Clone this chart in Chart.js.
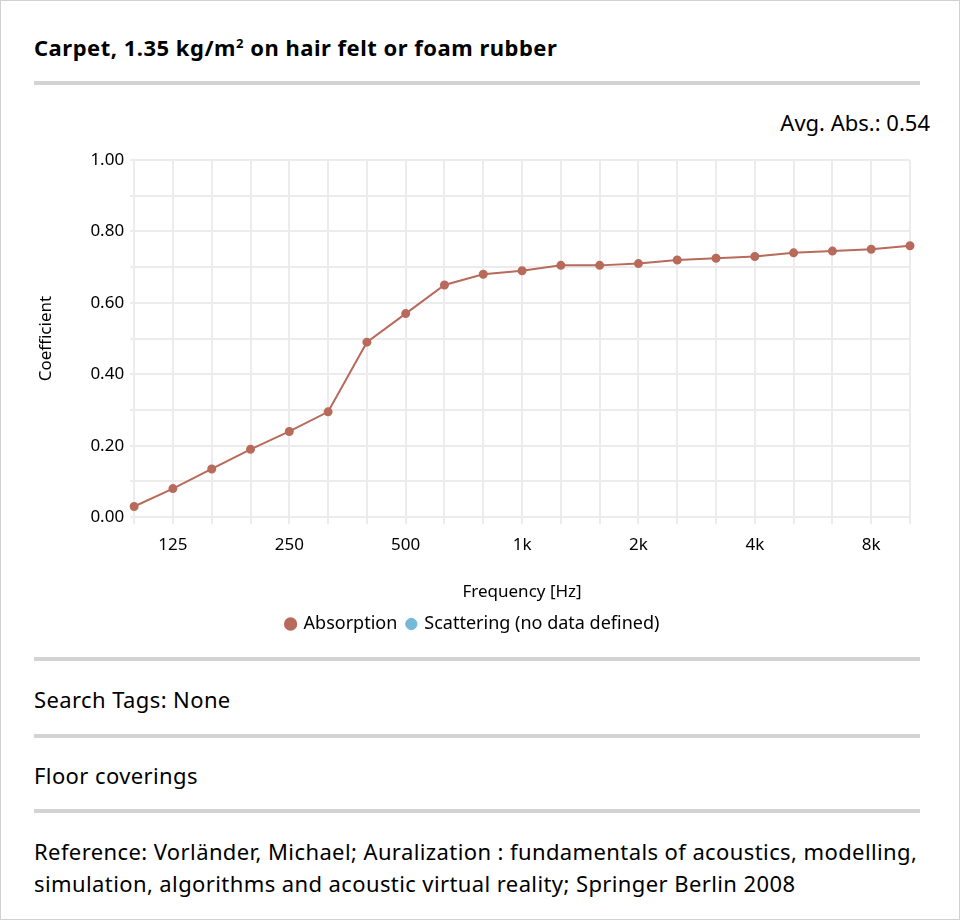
<!DOCTYPE html>
<html>
<head>
<meta charset="utf-8">
<script src="https://cdn.jsdelivr.net/npm/chart.js@4"></script>
<style>
  html, body { margin: 0; padding: 0; background: #fff; }
  body { width: 960px; height: 920px; position: relative; font-family: "Noto Sans", sans-serif; color: #000; }
  .frame { position: absolute; left: 0; top: 0; width: 958px; height: 918px; border: 1px solid #d0d0d0; }
  .title { position: absolute; left: 34px; top: 32px; font-size: 22px; font-weight: bold; letter-spacing: 0.5px; }
  .rule { position: absolute; left: 34px; width: 886px; height: 4px; background: #d3d3d3; }
  .avg { position: absolute; right: 30px; top: 107px; font-size: 22px; }
  .txt { position: absolute; left: 34px; font-size: 22px; line-height: 32px; letter-spacing: 0.4px; }
  #wrap { position: absolute; left: 30px; top: 140px; width: 910px; height: 505px; }
</style>
</head>
<body>
<div class="frame"></div>
<div class="title">Carpet, 1.35 kg/m<sup style="font-size:13px">2</sup> on hair felt or foam rubber</div>
<div class="rule" style="top:81px"></div>
<div class="avg">Avg. Abs.: 0.54</div>
<div id="wrap"><canvas id="chart"></canvas></div>
<div class="rule" style="top:657px"></div>
<div class="txt" style="top:683px">Search Tags: None</div>
<div class="rule" style="top:734px"></div>
<div class="txt" style="top:759px">Floor coverings</div>
<div class="rule" style="top:809px"></div>
<div class="txt" style="top:835px">Reference: Vorländer, Michael; Auralization : fundamentals of acoustics, modelling,<br>simulation, algorithms and acoustic virtual reality; Springer Berlin 2008</div>
<script>
const frequencies = ['100', '125', '160', '200', '250', '315', '400', '500', '630', '800', '1k',
  '1.25k', '1.6k', '2k', '2.5k', '3.15k', '4k', '5k', '6.3k', '8k', '10k'];
const shownLabels = ['125', '250', '500', '1k', '2k', '4k', '8k'];
const absorption = [0.03, 0.08, 0.135, 0.19, 0.24, 0.295, 0.49, 0.57, 0.65, 0.68, 0.69,
  0.705, 0.705, 0.71, 0.72, 0.725, 0.73, 0.74, 0.745, 0.75, 0.76];
const scattering = [];

const gridColor = '#ececec';
const ctx = document.getElementById('chart').getContext('2d');
new Chart(ctx, {
  type: 'line',
  data: {
    labels: frequencies,
    datasets: [{
      label: 'Absorption',
      data: absorption,
      borderColor: '#b86a5b',
      backgroundColor: '#b86a5b',
      borderWidth: 2,
      pointRadius: 3.5,
      pointHoverRadius: 4.5,
      tension: 0
    }, {
      label: 'Scattering (no data defined)',
      data: scattering,
      borderColor: '#74b9d6',
      backgroundColor: '#74b9d6'
    }]
  },
  options: {
    responsive: true,
    maintainAspectRatio: false,
    animation: false,
    layout: { padding: { left: 6, right: 30, top: 20, bottom: 2 } },
    plugins: {
      legend: {
        position: 'bottom',
        labels: {
          usePointStyle: true,
          pointStyle: 'circle',
          boxWidth: 8,
          boxHeight: 8,
          color: '#000',
          font: { family: 'Noto Sans', size: 18 },
          padding: 10
        }
      },
      tooltip: { enabled: false }
    },
    scales: {
      x: {
        grid: { color: gridColor, lineWidth: 2, tickLength: 7 },
        border: { display: false },
        ticks: {
          color: '#000',
          font: { family: 'Noto Sans', size: 17 },
          autoSkip: false,
          maxRotation: 0,
          padding: 11,
          callback: function(value) {
            const lbl = this.getLabelForValue(value);
            return shownLabels.includes(lbl) ? lbl : '';
          }
        },
        title: {
          display: true,
          text: 'Frequency [Hz]',
          color: '#000',
          font: { family: 'Noto Sans', size: 17 },
          padding: { top: 15, bottom: 3 }
        }
      },
      y: {
        min: 0,
        max: 1,
        grid: { color: gridColor, lineWidth: 2, tickLength: 4 },
        border: { display: false },
        ticks: {
          stepSize: 0.1,
          color: '#000',
          font: { family: 'Noto Sans', size: 17 },
          padding: 6,
          callback: function(value) {
            const v = Math.round(value * 10);
            return v % 2 === 0 ? value.toFixed(2) : '';
          }
        },
        title: {
          display: true,
          text: 'Coefficient',
          color: '#000',
          font: { family: 'Noto Sans', size: 17 },
          padding: { top: 0, bottom: 28 }
        }
      }
    }
  }
});
</script>
</body>
</html>
